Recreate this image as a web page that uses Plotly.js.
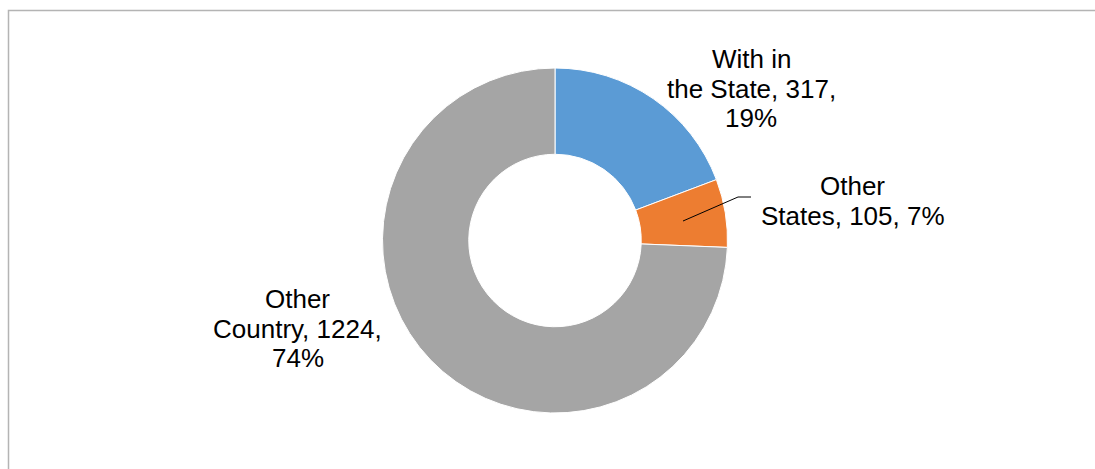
<!DOCTYPE html>
<html>
<head>
<meta charset="utf-8">
<script src="https://cdn.plot.ly/plotly-3.0.1.min.js"></script>
<style>html,body{margin:0;padding:0;background:#fff;}#chart{width:1095px;height:469px;}</style>
</head>
<body>
<div id="chart"></div>
<script>
const categories = ["With in the State", "Other States", "Other Country"];
const values = [317, 105, 1224];
const percentLabels = ["19%", "7%", "74%"];
const labelLines = [
  ["With in", "the State, 317,", "19%"],
  ["Other", "States, 105, 7%"],
  ["Other", "Country, 1224,", "74%"]
];
const colors = ["#5B9BD5", "#ED7D31", "#A5A5A5"];

const W = 1095, H = 469;
const px = x => x / W;
const py = y => (H - y) / H;

const trace = {
  type: "pie",
  labels: categories,
  values: values,
  hole: 0.5,
  sort: false,
  direction: "clockwise",
  rotation: 0,
  textinfo: "none",
  hoverinfo: "label+value",
  marker: { colors: colors, line: { color: "#ffffff", width: 1 } },
  domain: { x: [px(381), px(729)], y: [py(413), py(68)] },
  showlegend: false
};

// label block layout: centre x and first-line centre y, line spacing
const labelPos = [[751, 58.7], [852.5, 185.7], [298, 298.7]];
const lineGap = 29.8;
const annotations = [];
labelLines.forEach((lines, i) => {
  lines.forEach((t, j) => {
    annotations.push({
      text: t,
      x: px(labelPos[i][0]), y: py(labelPos[i][1] + j * lineGap),
      xref: "paper", yref: "paper",
      xanchor: "center", yanchor: "middle",
      showarrow: false,
      font: { family: "Liberation Sans, Arial, sans-serif", size: 26, color: "#000" }
    });
  });
});

const layout = {
  width: W, height: H,
  margin: { l: 0, r: 0, t: 0, b: 0 },
  paper_bgcolor: "#fff",
  annotations: annotations,
  shapes: [
    { type: "path", xref: "paper", yref: "paper",
      path: `M ${px(683)} ${py(221)} L ${px(738)} ${py(197)} L ${px(751)} ${py(197)}`,
      line: { color: "#000", width: 1 } },
    { type: "rect", xref: "paper", yref: "paper",
      x0: px(8.5), x1: 1.02, y0: -0.02, y1: py(10.5),
      line: { color: "#b4b4b4", width: 1.5 } }
  ]
};

Plotly.newPlot("chart", [trace], layout, { staticPlot: true, displayModeBar: false });
</script>
</body>
</html>
